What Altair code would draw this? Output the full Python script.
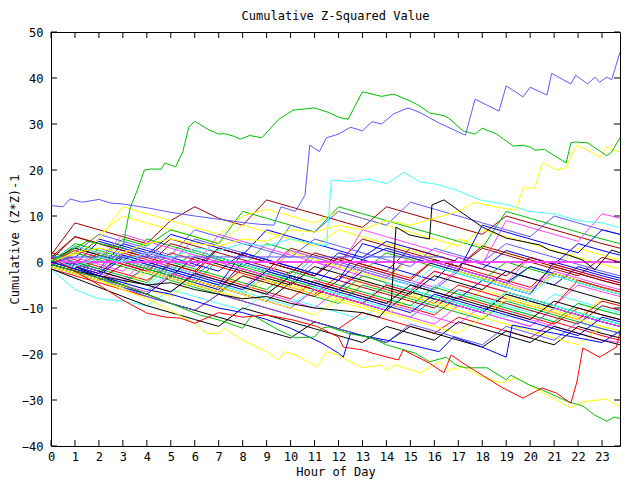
import altair as alt
import pandas as pd

TITLE = "Cumulative Z-Squared Value"
X_TITLE = "Hour of Day"
Y_TITLE = "Cumulative (Z*Z)-1"
X_TICKS = list(range(0, 24))
Y_TICKS = list(range(-40, 51, 10))

RED, GREEN, LBLUE, MAGENTA, CYAN = "#ff0000", "#00c000", "#5a5aff", "#ff44ff", "#44ffff"
DRED, YELLOW, BLACK, BLUE = "#a00000", "#ffff00", "#000000", "#0000ee"

# hourly readings for the bulk of the bundle
HOURS = [0, 1, 2, 3, 4, 5, 6, 7, 8, 9, 10, 11, 12, 13, 14, 15, 16, 17, 18, 19, 20, 21, 22, 23, 23.75]
b01 = [0.5, -1, -2.5, 2, 0.5, -1, -2.5, 3, 1.5, 0, -1.5, -3, 1, -0.5, -2, -3.5, 0.5, -1, -2.5, -4, -5.5, -1, -2.5, -4, -5]
b02 = [-0.5, 3, 1.5, 0, 5, 3.5, 2, 0.5, -1, 4, 2.5, 1, -0.5, -2, -3.5, 1, -0.5, -2, -3.5, -5, -1, -2.5, -4, -5.5, -6.5]
b03 = [1, -1, -3, -4.5, -1, -2.5, -4, -5.5, -7, -3, -4.5, -6, -7.5, -9, -5, -6.5, -8, -9.5, -11, -7, -8.5, -10, -11.5, -13, -14]
b04 = [-1, -2.5, 1, -0.5, -2, -3.5, 1.5, 0, -1.5, -3, -4.5, 0, -1.5, -3, -4.5, -6, -2, -3.5, -5, -6.5, -8, -9.5, -5, -6.5, -7.5]
b05 = [-1.5, -6, -8, -8.5, -9.5, -6, -7.5, -9, -10.5, -6.5, -8, -9.5, -11, -12.5, -8, -9.5, -11, -7, -8.5, -10, -11.5, -13, -9, -10.5, -11.5]
b06 = [1.5, 8.5, 7, 5.5, 4, 9, 12, 9.5, 8, 13.5, 12, 10.5, 9, 7.5, 12, 10.5, 9, 7.5, 6, 10, 8.5, 7, 5.5, 4, 3]
b07 = [0, 3, 6, 10, 8.5, 7, 5.5, 4, 8, 6.5, 5, 3.5, 7, 5.5, 4, 2.5, 1, 5, 3.5, 2, 0.5, -1, 3, 1.5, 0.5]
b08 = [-0.5, -2, -3.5, -5, -1, -2.5, -4, -5.5, -7, -8.5, -4.5, -6, -7.5, -9, -10.5, -6.5, -8, -9.5, -11, -7, -8.5, -10, -11.5, -13, -14]
b09 = [0.5, 1, 5, 3.5, 2, 0.5, -1, 3, 1.5, 0, -1.5, -3, 2, 0.5, -1, -2.5, -4, 1, -0.5, -2, -3.5, -5, -1, -2.5, -3.5]
b10 = [2, 0.5, -1, -2.5, -4, -0.5, -2, -3.5, -5, -6.5, -8, -4, -5.5, -7, -8.5, -10, -11.5, -7.5, -9, -10.5, -12, -13.5, -10, -11.5, -12.5]
b11 = [-1, -2.5, 0.5, -1, -2.5, -4, -5.5, -7, -3, -4.5, -6, -7.5, -9, -5, -6.5, -8, -9.5, -11, -12.5, -8.5, -10, -11.5, -13, -14.5, -15.5]
b12 = [0, -1.5, 3, 1.5, 0, -1.5, -3, 1, -0.5, -2, -3.5, -5, 0, -1.5, -3, -4.5, -6, -2, -3.5, -5, -6.5, -2.5, -4, -5.5, -6.5]
b13 = [0.5, -1, -2.5, -4, 0.5, -1, -2.5, -4, -5.5, -1.5, -3, -4.5, -6, -1, -2.5, -4, -5.5, -1.5, -3, -4.5, 1, -0.5, -2, -3.5, -4.5]
b14 = [1, -0.5, -2, -3.5, -5, -1, -2.5, -4, -5.5, -7, -3, -4.5, -6, -7.5, -9, -10.5, -5, -6.5, -8, -9.5, -11, -7, -8.5, -10, -11]
b15 = [-0.5, 3.5, 2, 0.5, -1, 4, 2.5, 1, -0.5, -2, 3, 1.5, 0, 5, 3.5, 2, 0.5, -1, 3, 1.5, 0, -1.5, -3, 1, 0]
b16 = [-1, -2.5, -4, -5.5, -7, -3, -4.5, -6, -2, -3.5, -5, -6.5, -8, -4, -5.5, -7, -8.5, -10, -6, -7.5, -9, -10.5, -12, -8, -9]
b17 = [0.5, 3, 1.5, 0, -1.5, -3, 1, -0.5, -2, -3.5, -5, -1, -2.5, -4, -5.5, -7, -3, -4.5, -6, -2, -3.5, -5, -6.5, -8, -9]
b18 = [1.5, 0, -1.5, 4, 2.5, 1, -0.5, -2, 2, 0.5, -1, -2.5, -4, 0.5, 3, 1.5, 0, -1.5, -3, -4.5, -1, -2.5, -4, -5.5, -6.5]
b19 = [-1.5, -3, -4.5, -6, -7.5, -9, -10.5, -7, -8.5, -10, -11.5, -13, -14.5, -11, -12.5, -14, -15.5, -12, -13.5, -15, -16.5, -13, -14.5, -16, -17]
b20 = [0, 4, 2.5, 1, -0.5, -2, 2.5, 1, -0.5, -2, -3.5, 1, -0.5, -2, 2, 0.5, -1, -2.5, -4, 0, -1.5, -3, -4.5, -6, -7]
b21 = [-0.5, -2, -3.5, -5, -1, -2.5, -4, -5.5, -7, -8.5, -10, -6, -7.5, -9, -10.5, -12, -8, -9.5, -11, -12.5, -14, -10, -11.5, -13, -14]
b22 = [1, -0.5, -2, -3.5, -5, -6.5, -2.5, -4, -5.5, -7, -8.5, -10, -6, -7.5, -9, -10.5, -12, -13.5, -9.5, -11, -12.5, -14, -15.5, -17, -17.5]
b23 = [0, -1.5, -3, 1, -0.5, -2, -3.5, -5, -6.5, -2.5, -4, -5.5, -7, -8.5, -10, -6, -7.5, -9, -10.5, -12, -8, -9.5, -11, -12.5, -13.5]
b24 = [0.5, 5.5, 4, 2.5, 1, 5, 3.5, 2, 0.5, -1, -2.5, 2, 0.5, -1, -2.5, -4, 0.5, -1, 3.5, 2, 0.5, -1, -2.5, -4, -5]
b25 = [-0.5, -2, -3.5, -5, -1, -2.5, -4, -5.5, -7, -3, 2, 0.5, -1, -2.5, -4, 1, -0.5, -2, -3.5, -5, -6.5, -2.5, -4, -5.5, -6.5]
b26 = [1, -1, -3, -5, -7, -9, -10.5, -12, -13.5, -15, -16.5, -13, -14.5, -16, -17.5, -14, -15.5, -17, -18.5, -15, -16.5, -18, -14, -15.5, -16.5]
b27 = [-1, -2.5, -4, -5.5, -7, -3, -4.5, -6, 0, -1.5, -3, -4.5, -6, -2, -3.5, -5, -6.5, -8, -4, -5.5, -7, 0, -1.5, -3, -4]
b28 = [0, -1.5, 2, 0.5, -1, -2.5, -4, -5.5, -1.5, -3, -4.5, -6, -7.5, -9, -5, -6.5, -2, -3.5, -5, -6.5, -8, -9.5, -4, -5.5, -6.5]
b29 = [1.5, 0, -1.5, -3, -4.5, 0, -1.5, -3, -4.5, -6, -2, -3.5, -5, -6.5, -8, -9.5, -5.5, -7, -8.5, -10, -11.5, -13, -9, -10.5, -11.5]
b30 = [-1, 2, 6, 4.5, 3, 1.5, 7, 5.5, 4, 2.5, 1, 5, 3.5, 2, 0.5, -1, 3, 1.5, 0, 4, 2.5, 1, -0.5, -2, -3]
b31 = [-0.5, -2, -3.5, -5, -6.5, -2.5, -4, -5.5, -7, -8.5, -10, -6, -7.5, -9, -10.5, -12, -13.5, -9.5, -11, -12.5, -14, -10, -11.5, -13, -14]
b32 = [0.5, 3.5, 2, 0.5, -1, -2.5, 2.5, 1, -0.5, -2, -3.5, 1, -0.5, -2, -3.5, -5, -1, -2.5, -4, -5.5, -7, -3, -4.5, -6, -7]
b33 = [-1, -2.5, -4, -0.5, -2, -3.5, -5, -6.5, -3, -4.5, -6, -7.5, -4, -5.5, -7, -8.5, -10, -6, -7.5, -9, -10.5, -12, -13.5, -9.5, -10.5]
b34 = [0, -1.5, -3, -4.5, -6, -7.5, -4, -5.5, -7, -8.5, -10, -11.5, -8, -9.5, -11, -12.5, -14, -15.5, -12, -13.5, -15, -16.5, -18, -14, -15]
b35 = [-1.5, -3.5, -5.5, -7.5, -9.5, -11, -12.5, -14, -10, -11.5, -13, -14.5, -16, -17.5, -14, -15.5, -17, -13, -14.5, -16, -17.5, -14, -15.5, -17, -18]
b36 = [1, -0.5, 4.5, 3, 1.5, 6, 4.5, 3, 1.5, 7, 5.5, 4, 2.5, 1, 4.5, 3, 1.5, 0, -1.5, 2.5, 1, -0.5, 4, 2.5, 1.5]
b37 = [0, 2.5, 1, -0.5, -2, 2, 0.5, -1, -2.5, -4, -5.5, -7, -3, -4.5, -6, -7.5, -9, -5, -6.5, -8, -9.5, -11, -12.5, -8.5, -9.5]
b38 = [-0.5, -2, 1.5, 0, -1.5, -3, -4.5, 0.5, -1, -2.5, -4, -5.5, -7, -3, -4.5, -6, -7.5, -9, -10.5, -6.5, -8, -9.5, -11, -12.5, -13.5]
b39 = [0.5, -1.5, -3.5, -5.5, -7.5, -9, -10.5, -7, -8.5, -10, -11.5, -13, -14.5, -16, -17.5, -13.5, -15, -16.5, -18, -14, -15.5, -17, -13, -14.5, -15.5]
b40 = [-0.5, 2, 0.5, 6, 4.5, 3, 1.5, 0, -1.5, -3, 2.5, 1, -0.5, -2, -3.5, 1.5, 0, -1.5, -3, -4.5, -6, -2, -3.5, -5, -6]
b41 = [0, -1.5, -3, -4.5, -6, -2, -3.5, -5, -6.5, -8, -9.5, -5.5, -7, -8.5, -4.5, -6, -7.5, -9, -10.5, -6.5, -8, -9.5, -11, -12.5, -13.5]
b42 = [1, 5.5, 4, 2.5, 1, -0.5, -2, 3, 1.5, 0, -1.5, -3, 1, -0.5, -2, 3, 1.5, 0, -1.5, -3, 1, -0.5, -2, -3.5, -4.5]
b43 = [-1, -2.5, -4, -5.5, -2, -3.5, -5, -6.5, -8, -4, -5.5, -7, -8.5, -10, -11.5, -7.5, -9, -10.5, -12, -8, -9.5, -11, -12.5, -14, -15]
b44 = [1, -0.5, -2, -3.5, -5, -6.5, -2.5, -4, -5.5, -7, -3, -4.5, -6, -7.5, -9, -5, -6.5, -8, -9.5, -11, -12.5, -8.5, -10, -11.5, -12.5]
b45 = [0.5, -1, -2.5, 1.5, 0, -1.5, -3, -4.5, -6, -2, -3.5, -5, -6.5, -8, -9.5, -11, -7, -8.5, -10, -11.5, -13, -14.5, -16, -12, -13]
b46 = [0, 2, 0.5, 5, 3.5, 7, 5.5, 4, 11, 9.5, 8, 6.5, 12, 10.5, 9, 7.5, 6, 4.5, 3, 11, 9.5, 8, 6.5, 5, 4]
b47 = [0.5, 1.5, 5, 12, 10.5, 9, 7.5, 6, 10, 11.5, 10, 8.5, 11, 9.5, 8, 6.5, 5, 3.5, 7, 5.5, 4, 2.5, 1, -0.5, -1.5]
b48 = [1, -0.5, -2, 3, 1.5, 0, 5, 3.5, 2, 0.5, 8, 6.5, 11, 9.5, 8, 13, 11.5, 10, 8.5, 7, 5.5, 10, 8.5, 7, 6]
b49 = [-0.5, 1, -0.5, -2, 2, 0.5, -1, 6, 4.5, 3, 1.5, 0, -1.5, 7, 5.5, 4, 2.5, 1, -0.5, 9, 7.5, 6, 4.5, 10.5, 9.5]
b50 = [0, -1.5, -3, 1, -0.5, -2, -3.5, -5, 2, 0.5, -1, -2.5, -4, 4, 2.5, 1, -0.5, -2, 8, 6.5, 5, 3.5, 2, 7, 6]
BUNDLE_COLORS = [RED, GREEN, LBLUE, MAGENTA, CYAN, DRED, YELLOW, BLACK, BLUE, RED,
                 GREEN, LBLUE, MAGENTA, CYAN, DRED, YELLOW, BLACK, BLUE, RED, GREEN,
                 LBLUE, MAGENTA, CYAN, DRED, YELLOW, BLACK, BLUE, RED, GREEN, LBLUE,
                 MAGENTA, CYAN, DRED, YELLOW, BLACK, BLUE, RED, GREEN, LBLUE, MAGENTA,
                 CYAN, DRED, YELLOW, BLACK, BLUE, GREEN, YELLOW, LBLUE, MAGENTA, BLUE]

# series read at finer detail
top_blue_h = [0, 0.5, 0.8, 1.3, 2, 2.5, 3, 4, 5, 6, 7, 8, 8.7, 9.3, 9.6, 10.2, 10.6, 10.8, 11.2, 11.5, 12.0, 12.5, 13.0, 13.4, 13.8, 14.3, 14.9, 15.4, 16.2, 17.2, 17.3, 17.7, 18.7, 19.0, 19.7, 20.0, 20.7, 20.9, 21.7, 21.9, 22.4, 22.7, 22.9, 23.2, 23.4, 23.75]
top_blue_v = [12.3, 12.0, 13.7, 13.0, 13.6, 12.8, 12.6, 11.8, 10.8, 10.0, 9.3, 8.6, 8.2, 8.0, 12.0, 11.0, 14.5, 25.4, 24.0, 27.0, 27.8, 29.3, 28.5, 30.5, 30.0, 32.2, 33.5, 32.5, 30.2, 27.8, 27.6, 35.4, 32.8, 38.3, 35.9, 38.0, 36.3, 41.0, 38.7, 40.6, 38.7, 40.2, 39.1, 40.2, 39.6, 45.6]
big_green_h = [0, 0.5, 1, 1.5, 2, 2.5, 3.0, 3.1, 3.3, 3.6, 3.9, 4.16, 4.6, 4.75, 5.2, 5.5, 5.75, 6.0, 6.6, 7.0, 7.25, 7.6, 7.9, 8.3, 8.8, 9.5, 10.1, 11.0, 11.6, 12.0, 12.4, 13.0, 13.8, 14.3, 15.0, 15.4, 15.8, 16.4, 16.6, 17.2, 17.7, 18.0, 18.6, 19.3, 19.7, 20.0, 20.2, 20.6, 21.5, 21.7, 21.9, 22.4, 23.2, 23.4, 23.75]
big_green_v = [0, 1.5, 3, 4.5, 4, 3.5, 3.0, 6.3, 11.7, 15.6, 20.0, 20.2, 20.2, 21.5, 20.7, 23.9, 29.3, 30.6, 28.7, 27.8, 27.9, 27.4, 26.7, 27.5, 27.0, 31.0, 33.0, 33.5, 32.5, 31.5, 31.0, 37.0, 36.0, 36.5, 35.0, 33.9, 32.4, 31.8, 31.3, 28.5, 27.8, 29.1, 27.8, 25.2, 25.4, 25.0, 24.3, 24.5, 21.5, 25.9, 26.1, 25.9, 23.1, 23.9, 27.0]
rise_yellow_h = [0, 1, 2, 3, 4, 5, 6, 7, 8, 9, 10, 11, 12, 13, 14, 15, 16, 17, 17.7, 18.5, 19.4, 19.7, 20.2, 20.5, 20.7, 21.1, 21.5, 21.7, 21.95, 22.4, 22.9, 23.2, 23.75]
rise_yellow_v = [0, 2, 3, 2, 4, 5, 4, 3.5, 5, 4.5, 7, 6.5, 8, 7, 9, 8, 9.5, 11, 13, 12, 11.3, 16.1, 16.1, 21.5, 21.1, 20.0, 20.5, 22.8, 25.4, 24.3, 22.8, 25.0, 23.9]
high_cyan_h = [0, 1, 2, 3, 4, 5, 6, 7, 8, 9, 10, 11, 11.5, 11.7, 12.5, 13.3, 14, 14.75, 15.4, 16, 16.9, 17.9, 19, 20, 21, 22, 23, 23.75]
high_cyan_v = [0.5, -1, 1, 0, 2, 1, 3, 2.5, 4, 3.5, 5, 4, 3.5, 17.8, 17.5, 18, 17, 19.5, 17.4, 17.0, 15.7, 13.5, 12.5, 11, 10.5, 9, 8.5, 7.5]
low_green_h = [0, 1, 2, 3, 4, 5, 6.2, 7.0, 8.0, 8.4, 9.5, 10.2, 11.0, 11.3, 11.6, 12.4, 13.4, 14.0, 15.2, 15.8, 16.5, 16.9, 17.3, 18.2, 19.0, 19.2, 19.95, 20.5, 21.6, 22.2, 22.7, 23.2, 23.5, 23.75]
low_green_v = [-0.5, -2, -3.5, -5, -7, -9, -11.5, -12.6, -14.4, -11.5, -14.8, -16.5, -16.3, -14.4, -14.1, -15.5, -16.5, -18, -19.8, -21.7, -20.7, -22.4, -23, -23, -25.6, -24.6, -26.7, -27.8, -30.4, -31.3, -33.3, -34.6, -33.7, -34]
low_yellow_h = [0, 1, 2, 3, 4, 4.8, 6.1, 6.5, 7.0, 7.25, 8.0, 9.0, 9.5, 9.75, 10.2, 11.1, 11.5, 12.0, 12.2, 13.0, 13.8, 14.0, 14.4, 15.4, 15.8, 16.2, 16.6, 17.2, 18.0, 18.8, 19.4, 20.1, 21.1, 21.7, 22.2, 23.2, 23.75]
low_yellow_v = [-1, -2.5, -4, -6, -8, -10, -13.7, -15.5, -15.5, -14.4, -17, -19.5, -21.3, -19.5, -20.2, -22.8, -19.5, -20.2, -20.9, -23, -22.4, -23.5, -22.4, -24.1, -23, -21.7, -23.5, -22.8, -25, -26.3, -25.2, -27.2, -30, -31.7, -30.4, -29.8, -31.5]
low_red_h = [0, 1, 2, 3, 4.0, 4.8, 5.4, 6.0, 7, 8, 9, 10.1, 11.1, 12.0, 12.2, 13.0, 13.4, 14.5, 14.7, 15.8, 16.4, 16.7, 17.2, 18.0, 18.8, 19.7, 19.95, 20.5, 21.1, 21.7, 21.95, 22.2, 22.9, 23.6, 23.75]
low_red_v = [1, -2, -5, -8.3, -11.1, -12, -12.2, -13.3, -11, -12, -11.5, -12.6, -14, -16.3, -18.5, -19.1, -19.8, -21.3, -19.1, -22, -24.1, -20.2, -22, -24.6, -27.2, -29.6, -28.9, -27.4, -28.5, -30.7, -26.1, -18.7, -20.7, -18.5, -15.2]
low_blue_h = [0, 1, 2, 3, 4, 5, 6, 7, 8, 9, 10, 11.3, 12.0, 12.2, 12.5, 13, 14, 15, 16.2, 16.8, 18.0, 19.0, 19.25, 20, 21, 22, 23, 23.75]
low_blue_v = [0, -1.5, -3, -4.5, -6, -7, -8.5, -10, -11, -12.5, -14.4, -17.6, -19.8, -20.7, -15.5, -16, -17, -18, -19.5, -16.3, -18.5, -20.7, -13.7, -14.5, -15.5, -16.5, -17.5, -15]
jump_black_h = [0, 1, 2, 3, 4, 5, 6, 7, 8, 9, 10, 11, 12, 13, 13.7, 14.2, 14.4, 14.95, 15.4, 15.8, 15.9, 16.4, 17.4, 18.0, 19.0, 20.4, 20.8, 21.6, 22.2, 22.7, 23.4, 23.75]
jump_black_v = [-0.5, -2, -3, -4, -5, -4.5, -6, -7, -8, -7.5, -9, -10, -10.5, -11, -12, -8.9, 7.6, 5.9, 5.4, 5.0, 12.4, 13.5, 9.8, 7.6, 5.2, 3.7, 2.6, 1.5, 0.4, -1.7, 2.6, 2.0]
flat_magenta_h = [0, 23.75]
flat_magenta_v = [0.1, 0.1]
flat_magenta2_v = [-0.1, -0.1]
flat_blue_h = [0, 16.4]
flat_blue_v = [1.1, 1.1]

bundle = [b01, b02, b03, b04, b05, b06, b07, b08, b09, b10, b11, b12, b13, b14, b15, b16, b17,
          b18, b19, b20, b21, b22, b23, b24, b25, b26, b27, b28, b29, b30, b31, b32, b33, b34,
          b35, b36, b37, b38, b39, b40, b41, b42, b43, b44, b45, b46, b47, b48, b49, b50]

series = []
for i, vals in enumerate(bundle):
    series.append((f"b{i+1:02d}", BUNDLE_COLORS[i], HOURS, vals))
series += [
    ("s_flat_blue", LBLUE, flat_blue_h, flat_blue_v),
    ("s_flat_mag", MAGENTA, flat_magenta_h, flat_magenta_v),
    ("s_flat_mag2", MAGENTA, flat_magenta_h, flat_magenta2_v),
    ("s_low_blue", BLUE, low_blue_h, low_blue_v),
    ("s_black", BLACK, jump_black_h, jump_black_v),
    ("s_cyan", CYAN, high_cyan_h, high_cyan_v),
    ("s_low_yellow", YELLOW, low_yellow_h, low_yellow_v),
    ("s_low_green", GREEN, low_green_h, low_green_v),
    ("s_low_red", RED, low_red_h, low_red_v),
    ("s_yellow", YELLOW, rise_yellow_h, rise_yellow_v),
    ("s_green", GREEN, big_green_h, big_green_v),
    ("s_top_blue", LBLUE, top_blue_h, top_blue_v),
]

rows = []
for name, col, hs, vs in series:
    for k, (h, v) in enumerate(zip(hs, vs)):
        rows.append({"series": name, "idx": k, "hour": h, "value": v})
df = pd.DataFrame(rows)

names = [s[0] for s in series]
colors = [s[1] for s in series]

FONT = "DejaVu Sans Mono"
xscale = alt.Scale(domain=[0, 23.75], nice=False, zero=False)
yscale = alt.Scale(domain=[-40, 50], nice=False, zero=False)


def x_axis():
    return alt.Axis(values=X_TICKS, title=X_TITLE, labelPadding=5, titlePadding=4, format="d",
                    domain=False, ticks=False, grid=False, labelFlush=False, labelFont=FONT,
                    labelFontSize=12, labelColor="black", titleFont=FONT, titleFontSize=12,
                    titleFontWeight="normal", titleColor="black")


def y_axis():
    return alt.Axis(values=Y_TICKS, title=Y_TITLE, labelPadding=8, titlePadding=0, format="d",
                    domain=False, ticks=False, grid=False, labelFlush=False, labelFont=FONT,
                    labelFontSize=12, labelColor="black", titleFont=FONT, titleFontSize=12,
                    titleFontWeight="normal", titleColor="black")


lines = alt.Chart(df).mark_line(strokeWidth=1, clip=True).encode(
    x=alt.X("hour:Q", scale=xscale, axis=x_axis()),
    y=alt.Y("value:Q", scale=yscale, axis=y_axis()),
    color=alt.Color("series:N", scale=alt.Scale(domain=names, range=colors), legend=None),
    detail="series:N",
    order="idx:Q",
)

xt = pd.DataFrame({"t": X_TICKS})
yt = pd.DataFrame({"t": Y_TICKS})
W, H, TL = 569, 414, 6

bottom_ticks = alt.Chart(xt).mark_rule(color="black", strokeWidth=1).encode(
    x=alt.X("t:Q", scale=xscale, axis=x_axis()), y=alt.value(H), y2=alt.value(H - TL))
top_ticks = alt.Chart(xt).mark_rule(color="black", strokeWidth=1).encode(
    x=alt.X("t:Q", scale=xscale, axis=x_axis()), y=alt.value(0), y2=alt.value(TL))
left_ticks = alt.Chart(yt).mark_rule(color="black", strokeWidth=1).encode(
    y=alt.Y("t:Q", scale=yscale, axis=y_axis()), x=alt.value(0), x2=alt.value(TL))
right_ticks = alt.Chart(yt).mark_rule(color="black", strokeWidth=1).encode(
    y=alt.Y("t:Q", scale=yscale, axis=y_axis()), x=alt.value(W), x2=alt.value(W - TL))

chart = alt.layer(lines, bottom_ticks, top_ticks, left_ticks, right_ticks).properties(
    width=W, height=H,
    background="white",
    title=alt.TitleParams(TITLE, font=FONT, fontSize=12, fontWeight="normal", offset=3,
                          anchor="middle", color="black", frame="group"),
    autosize=alt.AutoSizeParams(type="none"),
    padding={"left": 43, "top": 24, "right": 12, "bottom": 34},
).configure_view(stroke="black", strokeWidth=1)

chart.save("out.html", embed_options={"renderer": "svg", "actions": False})
